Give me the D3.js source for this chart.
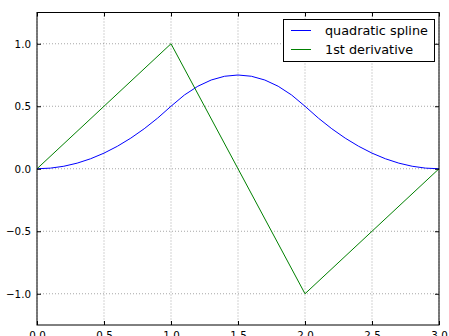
<!DOCTYPE html>
<html>
<head>
<meta charset="utf-8">
<script src="https://cdn.jsdelivr.net/npm/d3@7"></script>
<style>
  body { margin: 0; background: #fff; }
  svg { display: block; font-family: "DejaVu Sans", sans-serif; }
</style>
</head>
<body>
<div id="chart"></div>
<script>
// data
const splineX = [0, 0.1, 0.2, 0.3, 0.4, 0.5, 0.6, 0.7, 0.8, 0.9, 1.0,
                 1.1, 1.2, 1.3, 1.4, 1.5, 1.6, 1.7, 1.8, 1.9, 2.0,
                 2.1, 2.2, 2.3, 2.4, 2.5, 2.6, 2.7, 2.8, 2.9, 3.0];
const splineY = [0, 0.005, 0.02, 0.045, 0.08, 0.125, 0.18, 0.245, 0.32, 0.405, 0.5,
                 0.59, 0.66, 0.71, 0.74, 0.75, 0.74, 0.71, 0.66, 0.59, 0.5,
                 0.405, 0.32, 0.245, 0.18, 0.125, 0.08, 0.045, 0.02, 0.005, 0];
const derivX = [0, 1, 2, 3];
const derivY = [0, 1, -1, 0];

const xTicks = [0, 0.5, 1.0, 1.5, 2.0, 2.5, 3.0];
const yTicks = [-1.0, -0.5, 0.0, 0.5, 1.0];
const seriesNames = ["quadratic spline", "1st derivative"];
const seriesColors = ["#0000ff", "#008000"];

//Figure size & plot box
const W = 449, H = 336;
const pLeft = 37, pRight = 439, pTop = 12.5, pBottom = 325;

const svg = d3.select("#chart").append("svg")
  .attr("width", W).attr("height", H);

const x = d3.scaleLinear().domain([0, 3]).range([pLeft, pRight]);
const y = d3.scaleLinear().domain([-1.25, 1.25]).range([pBottom, pTop]);

//Grid
const grid = svg.append("g")
  .attr("stroke", "#000").attr("stroke-opacity", 0.5)
  .attr("stroke-width", 0.7).attr("stroke-dasharray", "1,2");
xTicks.forEach(function(t) {
  grid.append("line").attr("x1", x(t)).attr("x2", x(t)).attr("y1", pTop).attr("y2", pBottom);
});
yTicks.forEach(function(t) {
  grid.append("line").attr("x1", pLeft).attr("x2", pRight).attr("y1", y(t)).attr("y2", y(t));
});

//Lines
const line = d3.line().x(d => x(d[0])).y(d => y(d[1]));
svg.append("path")
  .attr("d", line(d3.zip(splineX, splineY)))
  .attr("fill", "none").attr("stroke", seriesColors[0]).attr("stroke-width", 1);
svg.append("path")
  .attr("d", line(d3.zip(derivX, derivY)))
  .attr("fill", "none").attr("stroke", seriesColors[1]).attr("stroke-width", 1);

//Axes, ticks pointing inward on all sides
const fmt = d => d3.format(".1f")(d).replace("-", "\u2212");
svg.append("g").attr("transform", "translate(0," + pBottom + ")")
  .call(d3.axisBottom(x).tickValues(xTicks).tickSizeInner(-4).tickSizeOuter(0).tickPadding(7).tickFormat(fmt));
svg.append("g").attr("transform", "translate(0," + pTop + ")")
  .call(d3.axisTop(x).tickValues(xTicks).tickSizeInner(-4).tickSizeOuter(0).tickFormat(""));
svg.append("g").attr("transform", "translate(" + pLeft + ",0)")
  .call(d3.axisLeft(y).tickValues(yTicks).tickSizeInner(-4).tickSizeOuter(0).tickPadding(6).tickFormat(fmt));
svg.append("g").attr("transform", "translate(" + pRight + ",0)")
  .call(d3.axisRight(y).tickValues(yTicks).tickSizeInner(-4).tickSizeOuter(0).tickFormat(""));
svg.selectAll(".domain").remove();
svg.selectAll(".tick text").attr("font-size", 10.3).attr("font-family", "DejaVu Sans").attr("fill", "#000");
svg.selectAll(".tick line").attr("stroke", "#000");

//Frame
svg.append("rect")
  .attr("x", pLeft).attr("y", pTop).attr("width", pRight - pLeft).attr("height", pBottom - pTop)
  .attr("fill", "none").attr("stroke", "#000").attr("stroke-width", 1);

//Legend
const lg = svg.append("g");
lg.append("rect").attr("x", 283.5).attr("y", 19.5).attr("width", 151).attr("height", 42)
  .attr("fill", "#fff").attr("stroke", "#000").attr("stroke-width", 1);
seriesNames.forEach(function(name, i) {
  const ly = 30.5 + i * 19;
  lg.append("line").attr("x1", 291).attr("x2", 311).attr("y1", ly).attr("y2", ly)
    .attr("stroke", seriesColors[i]).attr("stroke-width", 1);
  lg.append("text").attr("x", 325).attr("y", ly + 4.5).attr("font-size", 12.8)
    .attr("fill", "#000").text(name);
});
</script>
</body>
</html>
